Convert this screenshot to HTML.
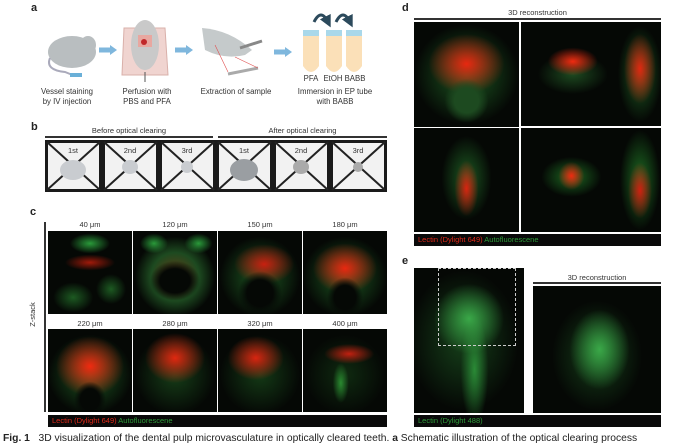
<!DOCTYPE html>
<html><head><meta charset="utf-8"><style>
body{margin:0;width:689px;height:448px;background:#fff;position:relative;overflow:hidden;font-family:"Liberation Sans",sans-serif;}
.a{position:absolute;}
.lbl{position:absolute;font-weight:bold;font-size:11px;color:#222;}
.t{position:absolute;font-size:7.5px;color:#333;text-align:center;white-space:nowrap;}
.img{position:absolute;background:#050805;overflow:hidden;}
.leg{position:absolute;background:#0a0a0a;font-size:7.5px;line-height:12px;padding-left:4px;box-sizing:border-box;white-space:nowrap;}
.hl{position:absolute;height:1.5px;background:#333;}
</style></head><body>

<div class="lbl" style="left:31px;top:2px;">a</div>
<svg class="a" style="left:0;top:0" width="395" height="110">
 <defs><marker id="m" markerWidth="4" markerHeight="4" refX="2" refY="2" orient="auto"><path d="M0,0L4,2L0,4z" fill="#2c4a5c"/></marker></defs>
 <ellipse cx="72" cy="52" rx="24" ry="16" fill="#b9bec0"/>
 <ellipse cx="88" cy="45" rx="8" ry="9" fill="#b9bec0"/>
 <path d="M50,58 Q45,70 65,72 L75,76" stroke="#aab" stroke-width="2" fill="none"/>
 <rect x="70" y="73" width="12" height="4" fill="#6ab0d8"/>
 <path d="M99,50 h12" stroke="#7fb7dd" stroke-width="5"/><path d="M110,45 l7,5 -7,5z" fill="#7fb7dd"/>
 <path d="M175,50 h12" stroke="#7fb7dd" stroke-width="5"/><path d="M186,45 l7,5 -7,5z" fill="#7fb7dd"/>
 <path d="M274,52 h12" stroke="#7fb7dd" stroke-width="5"/><path d="M285,47 l7,5 -7,5z" fill="#7fb7dd"/>
 <path d="M124,28 L165,28 L168,75 L122,75z" fill="#f0d4d0" stroke="#d9b0aa"/>
 <ellipse cx="145" cy="45" rx="14" ry="25" fill="#c9c9c9"/>
 <rect x="138" y="35" width="14" height="12" fill="#e8a7a0"/>
 <circle cx="144" cy="42" r="3" fill="#c0282a"/>
 <path d="M145,72 v10" stroke="#555"/>
 <path d="M202,28 Q230,30 252,50 L245,55 Q225,60 205,50z" fill="#c5cacb"/>
 <path d="M228,74 l30,-6" stroke="#aaa" stroke-width="3"/>
 <path d="M240,48 l22,-7" stroke="#888" stroke-width="3"/>
 <path d="M215,45 L228,72 M235,57 L258,68" stroke="#e05050" stroke-width="0.6"/>
 <g fill="#fbe0b8"><path d="M303,34 h16 v32 q-8,12 -16,0z"/><path d="M326,34 h16 v32 q-8,12 -16,0z"/><path d="M346,34 h16 v32 q-8,12 -16,0z"/></g>
 <g fill="#a9d8ea"><rect x="303" y="30" width="16" height="6"/><rect x="326" y="30" width="16" height="6"/><rect x="346" y="30" width="16" height="6"/></g>
 <path d="M314,22 q7,-14 14,0" stroke="#2c4a5c" stroke-width="3" fill="none" marker-end="url(#m)"/>
 <path d="M336,22 q7,-14 14,0" stroke="#2c4a5c" stroke-width="3" fill="none" marker-end="url(#m)"/>
 <g font-family="Liberation Sans" font-size="7.8" fill="#333" text-anchor="middle">
  <text x="311" y="81">PFA</text><text x="333" y="81">EtOH</text><text x="355" y="81">BABB</text>
  <text x="67" y="94">Vessel staining</text><text x="67" y="104">by IV injection</text>
  <text x="147" y="94">Perfusion with</text><text x="147" y="104">PBS and PFA</text>
  <text x="236" y="94">Extraction of sample</text>
  <text x="335" y="94">Immersion in EP tube</text><text x="335" y="104">with BABB</text>
 </g>
</svg>

<div class="lbl" style="left:31px;top:121px;">b</div>
<div class="t" style="left:45px;width:168px;top:126px;">Before optical clearing</div>
<div class="t" style="left:218px;width:169px;top:126px;">After optical clearing</div>
<div class="hl" style="left:45px;width:168px;top:136px;"></div>
<div class="hl" style="left:218px;width:169px;top:136px;"></div>
<svg class="a" style="left:45px;top:140px" width="342" height="52">
 <g stroke="#1a1a1a" stroke-width="3" fill="#f2f2f2">
 <rect x="1.5" y="1.5" width="54" height="49"/><rect x="58.5" y="1.5" width="54" height="49"/><rect x="115.5" y="1.5" width="54" height="49"/>
 <rect x="172.5" y="1.5" width="54" height="49"/><rect x="229.5" y="1.5" width="54" height="49"/><rect x="286.5" y="1.5" width="54" height="49"/>
 </g>
 <g stroke="#222" stroke-width="2">
 <path d="M2,2L55,50M55,2L2,50M59,2L112,50M112,2L59,50M116,2L169,50M169,2L116,50M173,2L226,50M226,2L173,50M230,2L283,50M283,2L230,50M287,2L340,50M340,2L287,50"/>
 </g>
 <g fill="#c9ccd0"><ellipse cx="28" cy="30" rx="13" ry="10"/><ellipse cx="85" cy="27" rx="8" ry="7"/><ellipse cx="142" cy="27" rx="6" ry="6"/>
 <ellipse cx="199" cy="30" rx="14" ry="11" fill="#9a9ea2"/><ellipse cx="256" cy="27" rx="8" ry="7" fill="#aaa"/><ellipse cx="313" cy="27" rx="5" ry="5" fill="#aaa"/></g>
 <g font-family="Liberation Sans" font-size="7.5" fill="#333" text-anchor="middle">
 <text x="28" y="13">1st</text><text x="85" y="13">2nd</text><text x="142" y="13">3rd</text><text x="199" y="13">1st</text><text x="256" y="13">2nd</text><text x="313" y="13">3rd</text></g>
</svg>

<div class="lbl" style="left:30px;top:206px;">c</div>
<div class="a" style="left:44px;top:222px;width:1.5px;height:190px;background:#333;"></div>
<div class="t" style="left:20px;top:310px;transform:rotate(-90deg);">Z-stack</div>
<div class="t" style="left:48px;width:84px;top:220px;">40 μm</div>
<div class="t" style="left:133px;width:84px;top:220px;">120 μm</div>
<div class="t" style="left:218px;width:84px;top:220px;">150 μm</div>
<div class="t" style="left:303px;width:84px;top:220px;">180 μm</div>
<div class="t" style="left:48px;width:84px;top:319px;">220 μm</div>
<div class="t" style="left:133px;width:84px;top:319px;">280 μm</div>
<div class="t" style="left:218px;width:84px;top:319px;">320 μm</div>
<div class="t" style="left:303px;width:84px;top:319px;">400 μm</div>
<div class="img" style="left:48px;top:231px;width:84px;height:83px;background:radial-gradient(ellipse 20px 10px at 50% 15%,#2a9a3a,transparent),radial-gradient(ellipse 25px 8px at 50% 38%,#a01a0a,transparent),radial-gradient(ellipse 20px 15px at 30% 80%,#1d5a22,transparent),radial-gradient(ellipse 15px 15px at 75% 70%,#1d5a22,transparent),#050805;"></div>
<div class="img" style="left:133px;top:231px;width:84px;height:83px;background:radial-gradient(ellipse 14px 10px at 25% 15%,#2a9a3a,transparent),radial-gradient(ellipse 14px 10px at 78% 15%,#2a9a3a,transparent),radial-gradient(ellipse 25px 20px at 50% 60%,#050805 60%,transparent),radial-gradient(ellipse 40px 40px at 50% 55%,#6a3a15,#1d4a20 60%,transparent),#050805;"></div>
<div class="img" style="left:218px;top:231px;width:84px;height:83px;background:radial-gradient(ellipse 22px 22px at 50% 75%,#050805 60%,transparent),radial-gradient(ellipse 30px 20px at 55% 40%,#c82010,transparent),radial-gradient(ellipse 40px 40px at 50% 55%,#1d5a22,transparent),#050805;"></div>
<div class="img" style="left:303px;top:231px;width:84px;height:83px;background:radial-gradient(ellipse 18px 20px at 50% 80%,#050805 60%,transparent),radial-gradient(ellipse 32px 25px at 50% 45%,#e82810,transparent),radial-gradient(ellipse 42px 40px at 50% 55%,#1d5a22,transparent),#050805;"></div>
<div class="img" style="left:48px;top:329px;width:84px;height:83px;background:radial-gradient(ellipse 16px 18px at 50% 85%,#050805 60%,transparent),radial-gradient(ellipse 34px 30px at 50% 45%,#f02a10,transparent),radial-gradient(ellipse 42px 40px at 50% 55%,#1d5a22,transparent),#050805;"></div>
<div class="img" style="left:133px;top:329px;width:84px;height:83px;background:radial-gradient(ellipse 30px 25px at 50% 35%,#e02810,transparent),radial-gradient(ellipse 40px 40px at 50% 55%,#163e18,transparent),#050805;"></div>
<div class="img" style="left:218px;top:329px;width:84px;height:83px;background:radial-gradient(ellipse 28px 22px at 45% 35%,#d82510,transparent),radial-gradient(ellipse 40px 40px at 50% 55%,#143a16,transparent),#050805;"></div>
<div class="img" style="left:303px;top:329px;width:84px;height:83px;background:radial-gradient(ellipse 8px 20px at 45% 65%,#2a8a30,transparent),radial-gradient(ellipse 25px 10px at 55% 30%,#c02010,transparent),radial-gradient(ellipse 40px 40px at 50% 55%,#0f2a10,transparent),#050805;"></div>
<div class="leg" style="left:48px;top:415px;width:339px;height:12px;"><span style="color:#e02a1a">Lectin (Dylight 649)</span> <span style="color:#2f9a3a">Autofluorescene</span></div>

<div class="lbl" style="left:402px;top:2px;">d</div>
<div class="t" style="left:414px;width:247px;top:8px;">3D reconstruction</div>
<div class="hl" style="left:414px;width:247px;top:18px;"></div>
<div class="img" style="left:414px;top:22px;width:105px;height:105px;border-right:2px solid #fff;background:radial-gradient(ellipse 22px 22px at 50% 75%,#1d4a20 55%,transparent),radial-gradient(ellipse 38px 30px at 50% 40%,#e82810,transparent),radial-gradient(ellipse 52px 50px at 50% 50%,#1d5a22,transparent),#050805;"></div>
<div class="img" style="left:521px;top:22px;width:140px;height:104px;background:radial-gradient(ellipse 25px 14px at 37% 38%,#f02a10,transparent),radial-gradient(ellipse 35px 20px at 37% 50%,#1d4a20,transparent),radial-gradient(ellipse 16px 35px at 85% 45%,#e02810,transparent),radial-gradient(ellipse 22px 48px at 85% 50%,#1d5a22,transparent),#050805;"></div>
<div class="img" style="left:414px;top:128px;width:105px;height:104px;border-right:2px solid #fff;background:radial-gradient(ellipse 12px 28px at 50% 58%,#d82510,transparent),radial-gradient(ellipse 25px 42px at 50% 48%,#1d5a22,transparent),#050805;"></div>
<div class="img" style="left:521px;top:128px;width:140px;height:104px;background:radial-gradient(ellipse 13px 14px at 36% 46%,#f02a10,transparent),radial-gradient(ellipse 30px 20px at 36% 47%,#1d6a22,transparent),radial-gradient(ellipse 12px 28px at 85% 60%,#d02010,transparent),radial-gradient(ellipse 20px 50px at 85% 50%,#1d6a22,transparent),#050805;"></div>
<div class="leg" style="left:414px;top:234px;width:247px;height:12px;"><span style="color:#e02a1a">Lectin (Dylight 649)</span> <span style="color:#2f9a3a">Autofluorescene</span></div>

<div class="lbl" style="left:402px;top:255px;">e</div>
<div class="img" style="left:414px;top:268px;width:110px;height:145px;background:radial-gradient(ellipse 35px 35px at 50% 35%,#3aa848,transparent),radial-gradient(ellipse 14px 55px at 55% 70%,#2a8a36,transparent),radial-gradient(ellipse 55px 70px at 45% 50%,#16401a,transparent),#050805;">
 <div class="a" style="left:24px;top:0;width:76px;height:76px;border:1px dashed #ccc;"></div></div>
<div class="t" style="left:533px;width:128px;top:273px;">3D reconstruction</div>
<div class="hl" style="left:533px;width:128px;top:282px;"></div>
<div class="img" style="left:533px;top:286px;width:128px;height:127px;background:radial-gradient(ellipse 30px 40px at 52% 50%,#3aa848,transparent),radial-gradient(ellipse 45px 55px at 50% 55%,#16401a,transparent),#050805;"></div>
<div class="leg" style="left:414px;top:415px;width:247px;height:12px;"><span style="color:#2f9a3a">Lectin (Dylight 488)</span></div>

<div class="a" style="left:3px;top:433px;font-size:10.3px;color:#222;white-space:nowrap;"><b>Fig. 1</b>&nbsp;&nbsp; 3D visualization of the dental pulp microvasculature in optically cleared teeth. <b>a</b> Schematic illustration of the optical clearing process</div>
</body></html>
